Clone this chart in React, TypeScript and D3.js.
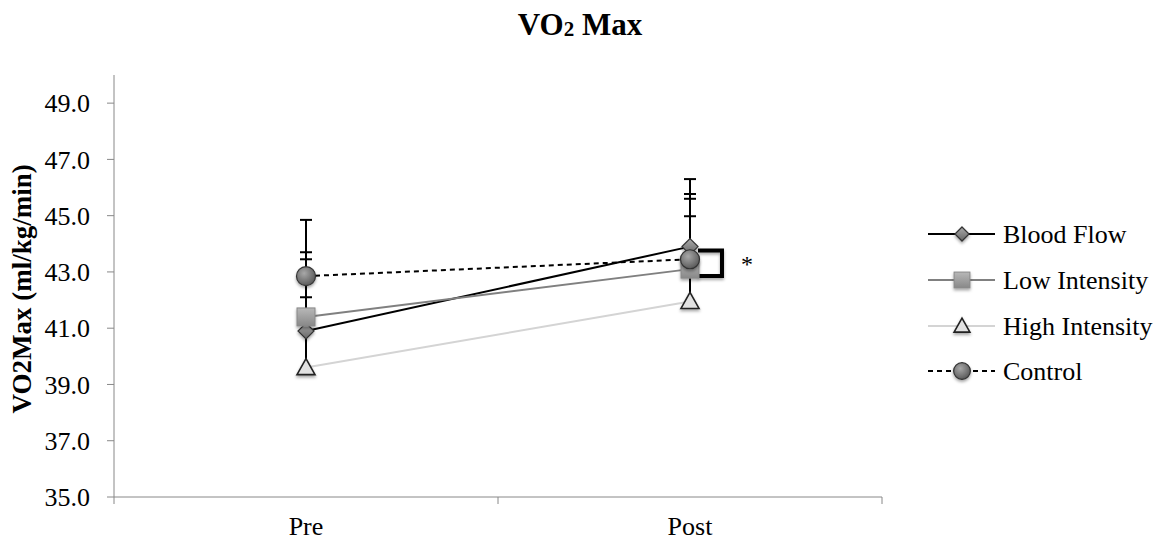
import React from "react";
import * as d3 from "d3";

const categories = ["Pre", "Post"];
const yTicks = [35, 37, 39, 41, 43, 45, 47, 49];

const seriesNames = ["Blood Flow", "Low Intensity", "High Intensity", "Control"];
const bloodFlow = [40.9, 43.9];
const lowIntensity = [41.4, 43.1];
const highIntensity = [39.6, 41.95];
const control = [42.85, 43.45];
// upper end of each error bar
const bloodFlowErr = [43.45, 45.6];
const lowIntensityErr = [43.7, 45.77];
const highIntensityErr = [42.1, 44.98];
const controlErr = [44.85, 46.3];

const W = 1160;
const H = 542;
const margin = { top: 75, right: 278, bottom: 45, left: 114 };
const FONT = "'Liberation Serif', 'Times New Roman', serif";

export default function App() {
  const x = d3
    .scaleBand<string>()
    .domain(categories)
    .range([margin.left, W - margin.right]);
  const y = d3.scaleLinear().domain([35, 50]).range([H - margin.bottom, margin.top]);
  const cx = (c: string) => (x(c) as number) + x.bandwidth() / 2;

  const line = d3
    .line<number>()
    .x((_, i) => cx(categories[i]))
    .y((d) => y(d));

  const series = [
    { name: seriesNames[0], vals: bloodFlow, err: bloodFlowErr, stroke: "#000", dash: "", marker: "diamond" },
    { name: seriesNames[1], vals: lowIntensity, err: lowIntensityErr, stroke: "#808080", dash: "", marker: "square" },
    { name: seriesNames[2], vals: highIntensity, err: highIntensityErr, stroke: "#d4d4d4", dash: "", marker: "triangle" },
    { name: seriesNames[3], vals: control, err: controlErr, stroke: "#000", dash: "5,4", marker: "circle" },
  ];

  const marker = (kind: string, px: number, py: number, key: string, s = 1) => {
    if (kind === "diamond")
      return (
        <path key={key} d={`M${px},${py - 8 * s}L${px + 8 * s},${py}L${px},${py + 8 * s}L${px - 8 * s},${py}Z`}
          fill="url(#gDiamond)" stroke="#333" strokeWidth={1.2} filter="url(#shadow)" />
      );
    if (kind === "square")
      return (
        <rect key={key} x={px - 9 * s} y={py - 9 * s} width={18 * s} height={18 * s}
          fill="url(#gSquare)" stroke="#888" strokeWidth={1} filter="url(#shadow)" />
      );
    if (kind === "triangle")
      return (
        <path key={key} d={`M${px},${py - 9 * s}L${px + 9 * s},${py + 7 * s}L${px - 9 * s},${py + 7 * s}Z`}
          fill="#e2e2e2" stroke="#222" strokeWidth={1.6} filter="url(#shadow)" />
      );
    return (
      <circle key={key} cx={px} cy={py} r={9.5 * s} fill="url(#gCircle)" stroke="#333"
        strokeWidth={1.2} filter="url(#shadow)" />
    );
  };

  const postX = cx(categories[1]);
  const legendX = 928;
  const legendY = [234, 280, 326, 371];

  return (
    <svg width={W} height={H} style={{ position: "absolute", left: 0, top: 0 }} fontFamily={FONT}>
      <defs>
        <radialGradient id="gCircle" cx="40%" cy="35%" r="70%">
          <stop offset="0%" stopColor="#a8a8a8" />
          <stop offset="100%" stopColor="#555" />
        </radialGradient>
        <linearGradient id="gDiamond" x1="0" y1="0" x2="0" y2="1">
          <stop offset="0%" stopColor="#aaa" />
          <stop offset="100%" stopColor="#666" />
        </linearGradient>
        <linearGradient id="gSquare" x1="0" y1="0" x2="0" y2="1">
          <stop offset="0%" stopColor="#b8b8b8" />
          <stop offset="100%" stopColor="#888" />
        </linearGradient>
        <filter id="shadow" x="-50%" y="-50%" width="200%" height="200%">
          <feDropShadow dx="0" dy="2" stdDeviation="1.5" floodColor="#000" floodOpacity="0.35" />
        </filter>
      </defs>

      <text x={580} y={35} textAnchor="middle" fontSize={31} fontWeight="bold">
        VO<tspan fontSize={21} dy={1}>2</tspan><tspan dy={-1}> Max</tspan>
      </text>

      {/* y axis */}
      <line x1={margin.left} x2={margin.left} y1={margin.top} y2={y(35)} stroke="#888" />
      {yTicks.map((t) => (
        <g key={t}>
          <line x1={margin.left - 7} x2={margin.left} y1={y(t)} y2={y(t)} stroke="#888" />
          <text x={90} y={y(t)} dy="0.35em" textAnchor="end" fontSize={26}>
            {t.toFixed(1)}
          </text>
        </g>
      ))}
      <text transform={`translate(31,${y(42.4)}) rotate(-90)`} textAnchor="middle" fontSize={27} fontWeight="bold">
        VO2Max (ml/kg/min)
      </text>

      {/* x axis */}
      <line x1={margin.left} x2={W - margin.right} y1={y(35)} y2={y(35)} stroke="#888" />
      {[margin.left, ...categories.map((c) => (x(c) as number) + x.bandwidth())].map((p, i) => (
        <line key={i} x1={p} x2={p} y1={y(35)} y2={y(35) + 7} stroke="#888" />
      ))}
      {categories.map((c) => (
        <text key={c} x={cx(c)} y={y(35) + 38} textAnchor="middle" fontSize={26}>
          {c}
        </text>
      ))}

      {/* error bars */}
      {series.map((s) =>
        s.vals.map((v, i) => (
          <g key={s.name + i} stroke="#000" strokeWidth={2}>
            <line x1={cx(categories[i])} x2={cx(categories[i])} y1={y(v)} y2={y(s.err[i])} />
            <line x1={cx(categories[i]) - 6} x2={cx(categories[i]) + 6} y1={y(s.err[i])} y2={y(s.err[i])} />
          </g>
        ))
      )}

      {/* lines */}
      {series.map((s) => (
        <path key={s.name} d={line(s.vals) || ""} fill="none" stroke={s.stroke} strokeWidth={2} strokeDasharray={s.dash} />
      ))}

      {/* significance bracket */}
      <path
        d={`M${postX + 8},${y(bloodFlow[1]) + 4}H${postX + 32}V${y(lowIntensity[1]) + 7}H${postX + 8}`}
        fill="none" stroke="#000" strokeWidth={4} filter="url(#shadow)"
      />
      <text x={postX + 57} y={y(43.45) + 13} textAnchor="middle" fontSize={24} fill="#000">*</text>

      {/* markers */}
      {series.map((s) => s.vals.map((v, i) => marker(s.marker, cx(categories[i]), y(v), s.name + "m" + i)))}

      {/* legend */}
      {series.map((s, i) => (
        <g key={s.name}>
          <line x1={legendX} x2={legendX + 67} y1={legendY[i]} y2={legendY[i]} stroke={s.stroke} strokeWidth={2} strokeDasharray={s.dash} />
          {marker(s.marker, legendX + 34, legendY[i], s.name + "leg", 0.88)}
          <text x={legendX + 75} y={legendY[i]} dy="0.35em" fontSize={26}>{s.name}</text>
        </g>
      ))}
    </svg>
  );
}
